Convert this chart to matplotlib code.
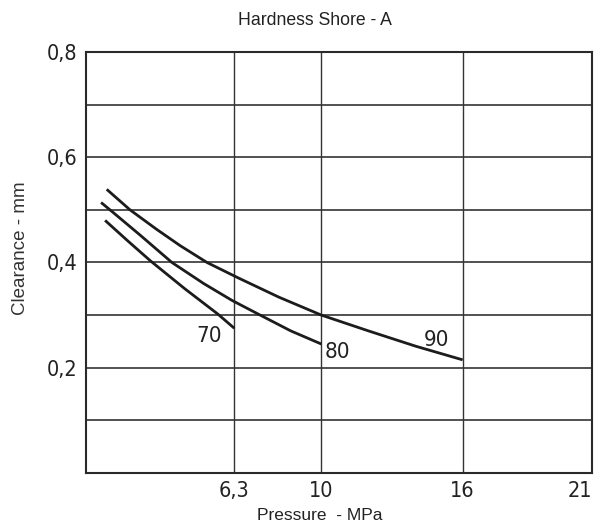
import matplotlib
matplotlib.use('Agg')
import matplotlib.pyplot as plt

# curves (pressure MPa, clearance mm)
p70 = [0.81, 1.8, 2.74, 4.2, 5.6, 6.3]
c70 = [0.48, 0.44, 0.403, 0.35, 0.302, 0.275]
p80 = [0.64, 1.02, 2.3, 3.65, 5.0, 6.2, 7.4, 8.7, 10.0]
c80 = [0.514, 0.50, 0.452, 0.40, 0.36, 0.328, 0.30, 0.27, 0.245]
p90 = [0.88, 1.87, 3.0, 4.0, 5.14, 6.5, 8.2, 10.0, 12.0, 14.0, 16.0]
c90 = [0.539, 0.50, 0.463, 0.432, 0.40, 0.37, 0.334, 0.30, 0.27, 0.241, 0.215]

labels = ['70', '80', '90']
label_pos = [(5.25, 0.26), (10.7, 0.23), (14.9, 0.253)]

xticks = [6.3, 10, 16, 21]
xticklabels = ['6,3', '10', '16', '21']
yticks = [0.2, 0.4, 0.6, 0.8]
yticklabels = ['0,2', '0,4', '0,6', '0,8']
ygrid = [0.1, 0.2, 0.3, 0.4, 0.5, 0.6, 0.7]
xgrid = [6.3, 10, 16]

ink = '#1c1c1c'
fig = plt.figure(figsize=(5.94, 5.29), dpi=100)
ax = fig.add_axes([0.1448, 0.1059, 0.852, 0.7958])

for g in ygrid:
    ax.axhline(g, color='#333333', lw=1.2, zorder=1)
for g in xgrid:
    ax.axvline(g, color='#333333', lw=1.0, zorder=1)

for xs, ys in [(p70, c70), (p80, c80), (p90, c90)]:
    ax.plot(xs, ys, color=ink, lw=2.0, solid_capstyle='butt',
            solid_joinstyle='round', zorder=3)

num_font = dict(family='DejaVu Sans', fontstretch='condensed', color='#222222')
for lab, (lx, ly) in zip(labels, label_pos):
    ax.text(lx, ly, lab, ha='center', va='center', fontsize=16, **num_font)

ax.set_xlim(0, 21.5)
ax.set_ylim(0, 0.8)
ax.set_xticks(xticks)
ax.set_xticklabels(xticklabels, fontsize=15.5, **num_font)
ax.set_yticks(yticks)
ax.set_yticklabels(yticklabels, fontsize=15.5, **num_font)
ax.tick_params(length=0, pad=6)
for s in ax.spines.values():
    s.set_color('#2a2a2a')
    s.set_linewidth(1.5)

fig.text(0.53, 0.962, 'Hardness Shore - A', ha='center', va='center',
         fontsize=12.7, family='Liberation Sans', color='#222222')
fig.text(0.035, 0.53, 'Clearance - mm', ha='center', va='center', rotation=90,
         fontsize=13.5, family='Liberation Sans', color='#333333')
fig.text(0.539, 0.025, 'Pressure  - MPa', ha='center', va='center',
         fontsize=12.5, family='Liberation Sans', color='#222222')

fig.savefig('out.png', dpi=100)
